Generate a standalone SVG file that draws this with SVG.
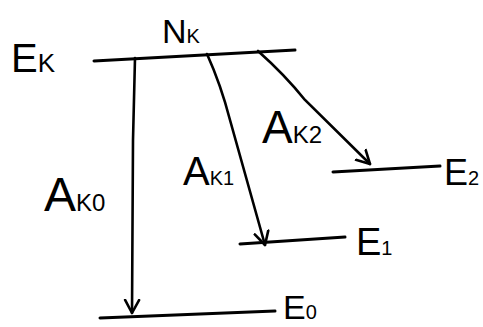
<svg xmlns="http://www.w3.org/2000/svg" width="483" height="327" viewBox="0 0 483 327">
<defs>
<marker id="v" viewBox="-14 -9 16 18" markerWidth="16" markerHeight="18" refX="0" refY="0" orient="auto" markerUnits="userSpaceOnUse">
<polyline points="-13,-7 0,0 -13,7" fill="none" stroke="#000" stroke-width="2.6" stroke-linecap="round" stroke-linejoin="round"/>
</marker>
<style>
.lv{stroke:#000;stroke-width:3;fill:none;stroke-linecap:round}
.ar{stroke:#000;stroke-width:2.6;fill:none;stroke-linecap:round;marker-end:url(#v)}
.t{font-family:"Liberation Sans",Arial,sans-serif;fill:#000}
</style>
</defs>
<rect width="483" height="327" fill="#fff"/>
<g id="Ek">
<path class="lv" d="M94,61 L295,50"/>
<text class="t" x="11" y="72" font-size="40">E<tspan font-size="26">K</tspan></text>
<text class="t" x="162" y="43" font-size="34">N<tspan font-size="20">K</tspan></text>
</g>
<g id="E2">
<path class="lv" d="M333,172 L440,166"/>
<text class="t" x="444" y="185" font-size="36">E<tspan font-size="20">2</tspan></text>
</g>
<g id="E1">
<path class="lv" d="M240,244 L345,237"/>
<text class="t" x="356" y="255" font-size="38">E<tspan font-size="20">1</tspan></text>
</g>
<g id="E0">
<path class="lv" d="M100,318 L275,311"/>
<text class="t" x="283" y="319" font-size="34">E<tspan font-size="20">0</tspan></text>
</g>
<g id="connectors">
<path class="ar" d="M135,58 L133,140 L132,313"/>
<text class="t" x="44" y="211" font-size="48">A<tspan font-size="24">K0</tspan></text>
<path class="ar" d="M207,54 Q221,85 230,120 L265,245"/>
<text class="t" x="183" y="185" font-size="40">A<tspan font-size="20">K1</tspan></text>
<path class="ar" d="M258,51 Q285,75 305,100 L370,164"/>
<text class="t" x="262" y="143" font-size="46">A<tspan font-size="24">K2</tspan></text>
</g>
</svg>
